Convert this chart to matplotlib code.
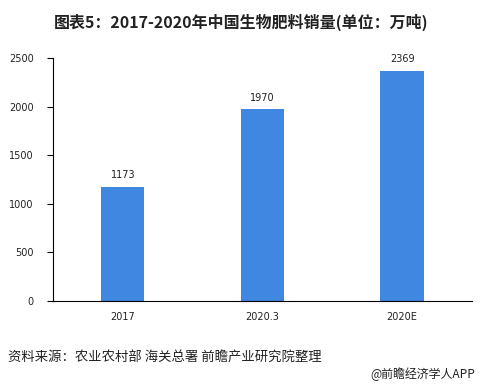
import matplotlib
matplotlib.use("Agg")
import matplotlib.pyplot as plt

plt.rcParams['font.family'] = ['Noto Sans CJK SC', 'DejaVu Sans']

categories = ['2017', '2020.3', '2020E']
sales = [1173, 1970, 2369]
y_ticks = [0, 500, 1000, 1500, 2000, 2500]

bar_color = '#3f87e0'
num_font = 'DejaVu Sans'

fig = plt.figure(figsize=(4.82, 3.91), dpi=100)
ax = fig.add_axes([0.110, 0.230, 0.869, 0.622])

x = range(len(categories))
bars = ax.bar(x, sales, width=0.31, color=bar_color, zorder=2)
for b, v in zip(bars, sales):
    ax.text(b.get_x() + b.get_width() / 2, v + 70, str(v),
            ha='center', va='bottom', fontsize=7, family=num_font, color='#222222')

ax.set_xlim(-0.5, len(categories) - 0.5)
ax.set_ylim(0, 2500)
ax.set_yticks(y_ticks)
ax.set_xticks(list(x))
ax.set_xticklabels(categories)
ax.tick_params(axis='y', direction='out', length=4, width=0.8, labelsize=7, pad=10,
               labelcolor='#222222', labelfontfamily=num_font)
ax.tick_params(axis='x', length=0, labelsize=7, pad=8,
               labelcolor='#222222', labelfontfamily=num_font)
for s in ['top', 'right']:
    ax.spines[s].set_visible(False)
ax.spines['left'].set_linewidth(0.8)
ax.spines['bottom'].set_linewidth(0.8)

fig.text(0.5, 0.944, '图表5：2017-2020年中国生物肥料销量(单位：万吨)', ha='center', va='center',
         fontsize=11.5, fontweight='bold', color='#222222')
fig.text(0.017, 0.085, '资料来源：农业农村部 海关总署 前瞻产业研究院整理', ha='left', va='center',
         fontsize=9.6, color='#222222')
fig.text(0.986, 0.043, '@前瞻经济学人APP', ha='right', va='center',
         fontsize=8.6, color='#222222')

fig.savefig('out.png', dpi=100)
